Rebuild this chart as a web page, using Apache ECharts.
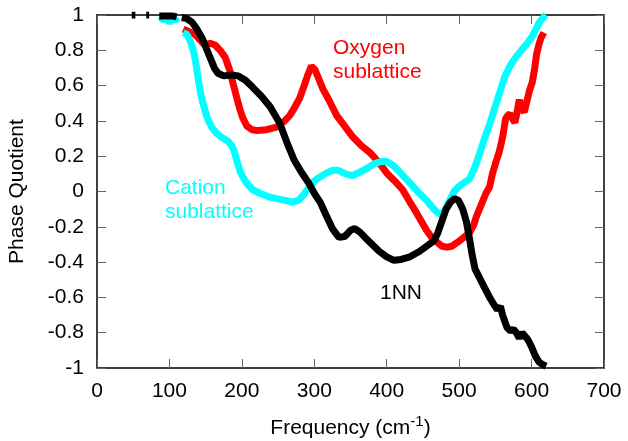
<!DOCTYPE html>
<html>
<head>
<meta charset="utf-8">
<script src="https://cdn.jsdelivr.net/npm/echarts@6/dist/echarts.min.js"></script>
<style>
html,body{margin:0;padding:0;background:#fff;}
#c{width:628px;height:441px;}
</style>
</head>
<body>
<div id="c"></div>
<script>
// x ticks / y ticks
var xTicks = [0, 100, 200, 300, 400, 500, 600, 700];
var yTicks = [-1, -0.8, -0.6, -0.4, -0.2, 0, 0.2, 0.4, 0.6, 0.8, 1];

// 1NN (black): [frequency, phase quotient]
var nn1 = [
  [48,1],[53,1],[60,'-'],[68,1],[72,1],[80,'-'],
  [86,0.995],[95,0.995],[103,0.995],[110,0.99],[114,'-'],
  [117,0.985],[124,0.98],[131,0.96],[138,0.92],[145,0.87],[150,0.82],[156,0.76],
  [162,0.70],[167,0.67],[175,0.655],[186,0.66],[195,0.655],[205,0.63],[215,0.59],
  [227,0.54],[239,0.48],[252,0.39],[262,0.28],[272,0.18],[282,0.11],[292,0.05],
  [300,-0.01],[308,-0.06],[317,-0.14],[325,-0.21],[334,-0.26],[342,-0.255],[350,-0.22],
  [356,-0.21],[363,-0.23],[370,-0.26],[380,-0.30],[390,-0.34],[400,-0.37],[410,-0.39],
  [420,-0.385],[432,-0.37],[445,-0.34],[455,-0.31],[465,-0.28],[470,-0.24],[476,-0.17],
  [482,-0.10],[488,-0.06],[494,-0.04],[499,-0.05],[505,-0.10],[510,-0.17],[514,-0.26],
  [518,-0.36],[522,-0.44],[527,-0.48],[532,-0.52],[537,-0.56],[542,-0.60],[548,-0.64],
  [553,-0.67],[557,-0.65],[560,-0.70],[566,-0.77],[571,-0.79],[575,-0.78],[579,-0.80],
  [583,-0.83],[587,-0.80],[591,-0.82],[595,-0.84],[600,-0.88],[605,-0.93],[610,-0.965],
  [615,-0.98],[620,-0.99]
];

// Oxygen sublattice (red)
var oxygen = [
  [87,0.99],[95,0.985],[100,0.96],[105,0.985],[110,0.99],[114,'-'],
  [119,0.92],[125,0.91],[135,0.89],[142,0.86],[149,0.83],[156,0.84],[163,0.83],
  [170,0.80],[177,0.76],[183,0.69],[188,0.61],[193,0.53],[197,0.47],[201,0.42],
  [207,0.37],[214,0.35],[221,0.345],[234,0.35],[248,0.365],[259,0.40],[266,0.43],
  [272,0.47],[280,0.53],[286,0.60],[291,0.66],[296,0.71],[301,0.69],[306,0.64],
  [312,0.58],[320,0.52],[331,0.43],[342,0.37],[353,0.31],[365,0.26],[377,0.22],
  [388,0.17],[400,0.105],[411,0.06],[422,0.01],[432,-0.06],[441,-0.12],[448,-0.17],
  [455,-0.22],[462,-0.26],[469,-0.285],[476,-0.31],[483,-0.315],[490,-0.31],
  [497,-0.29],[505,-0.265],[514,-0.235],[520,-0.19],[524,-0.14],[528,-0.10],
  [532,-0.06],[537,-0.01],[542,0.025],[546,0.10],[551,0.17],[555,0.22],[558,0.27],
  [561,0.33],[564,0.41],[567,0.43],[570,0.44],[574,0.41],[577,0.39],[580,0.45],
  [583,0.52],[586,0.47],[590,0.45],[594,0.52],[597,0.57],[601,0.62],[604,0.69],
  [607,0.78],[610,0.83],[613,0.87],[617,0.90]
];

// Cation sublattice (cyan)
var cation = [
  [87,0.99],[92,0.97],[97,0.985],[100,0.955],[104,0.98],[108,0.97],[112,0.985],[115,'-'],
  [119,0.90],[124,0.89],[128,0.86],[133,0.80],[136,0.74],[139,0.66],[142,0.58],
  [145,0.52],[149,0.46],[153,0.41],[159,0.36],[165,0.33],[173,0.305],[181,0.285],
  [186,0.26],[190,0.22],[194,0.16],[198,0.11],[203,0.07],[207,0.045],[215,0.01],
  [225,-0.01],[237,-0.03],[248,-0.04],[260,-0.05],[270,-0.06],[278,-0.05],[285,-0.02],
  [292,0.02],[300,0.06],[307,0.08],[317,0.105],[325,0.12],[333,0.12],[343,0.10],
  [353,0.09],[363,0.11],[372,0.13],[382,0.155],[392,0.17],[400,0.17],[408,0.15],
  [418,0.11],[427,0.07],[436,0.03],[445,-0.01],[455,-0.05],[463,-0.09],[470,-0.12],
  [475,-0.13],[481,-0.10],[487,-0.05],[493,0.0],[500,0.03],[507,0.05],[514,0.07],
  [521,0.13],[528,0.21],[535,0.30],[542,0.38],[549,0.47],[556,0.56],[563,0.65],
  [570,0.71],[578,0.76],[586,0.80],[594,0.84],[601,0.88],[606,0.92],[611,0.96],
  [616,0.985],[620,1.0]
];

var FONT = '"Liberation Sans", Arial, sans-serif';
var FS = 21;
var chart = echarts.init(document.getElementById('c'), null, {renderer:'canvas'});

function fmtY(v){
  var r = Math.round(v*10)/10;
  if (Math.abs(r) < 1e-9) return '0';
  return String(r);
}

var baseAxis = {
  axisLine:{show:true, onZero:false, lineStyle:{color:'#000', width:1.5}},
  axisTick:{show:true, inside:true, length:9, lineStyle:{color:'#666', width:1}},
  splitLine:{show:false}
};

var option = {
  animation:false,
  backgroundColor:'#fff',
  grid:{left:97, right:24, top:15, bottom:73, containLabel:false, outerBoundsMode:'none'},
  xAxis:[
    Object.assign({}, baseAxis, {
      type:'value', min:xTicks[0], max:xTicks[xTicks.length-1], interval:100, position:'bottom',
      axisLabel:{show:true, margin:13, fontSize:FS, color:'#000', fontFamily:FONT},
      name:'{a|Frequency (cm}{s|-1}{a|)}', nameLocation:'middle', nameGap:47,
      nameTextStyle:{rich:{
        a:{fontSize:FS, fontFamily:FONT, color:'#000', lineHeight:26},
        s:{fontSize:15, fontFamily:FONT, color:'#000', lineHeight:26, padding:[0,0,12,0]}
      }}
    }),
    Object.assign({}, baseAxis, {
      type:'value', min:xTicks[0], max:xTicks[xTicks.length-1], interval:100, position:'top',
      axisLabel:{show:false}
    })
  ],
  yAxis:[
    Object.assign({}, baseAxis, {
      type:'value', min:yTicks[0], max:yTicks[yTicks.length-1], interval:0.2, position:'left',
      axisLabel:{show:true, margin:13, fontSize:FS, color:'#000', fontFamily:FONT, formatter:fmtY},
      name:'Phase Quotient', nameLocation:'middle', nameGap:69,
      nameTextStyle:{fontSize:FS, fontFamily:FONT, color:'#000'}
    }),
    Object.assign({}, baseAxis, {
      type:'value', min:yTicks[0], max:yTicks[yTicks.length-1], interval:0.2, position:'right',
      axisLabel:{show:false}
    })
  ],
  series:[
    {type:'line', data:oxygen, showSymbol:false, connectNulls:false, z:2,
     lineStyle:{color:'#ff0000', width:7}, itemStyle:{color:'#ff0000'}},
    {type:'line', data:cation, showSymbol:false, connectNulls:false, z:3,
     lineStyle:{color:'#00ffff', width:7}, itemStyle:{color:'#00ffff'}},
    {type:'line', data:nn1, showSymbol:false, connectNulls:false, z:4,
     lineStyle:{color:'#000000', width:7}, itemStyle:{color:'#000000'}}
  ],
  graphic:[
    {type:'text', left:333, top:38, style:{text:'Oxygen', fill:'#ff0000', font:FS+'px '+FONT}},
    {type:'text', left:333, top:62, style:{text:'sublattice', fill:'#ff0000', font:FS+'px '+FONT}},
    {type:'text', left:165, top:178, style:{text:'Cation', fill:'#00ffff', font:FS+'px '+FONT}},
    {type:'text', left:165, top:202, style:{text:'sublattice', fill:'#00ffff', font:FS+'px '+FONT}},
    {type:'text', left:380, top:283, style:{text:'1NN', fill:'#000000', font:FS+'px '+FONT}}
  ]
};
chart.setOption(option);
</script>
</body>
</html>
